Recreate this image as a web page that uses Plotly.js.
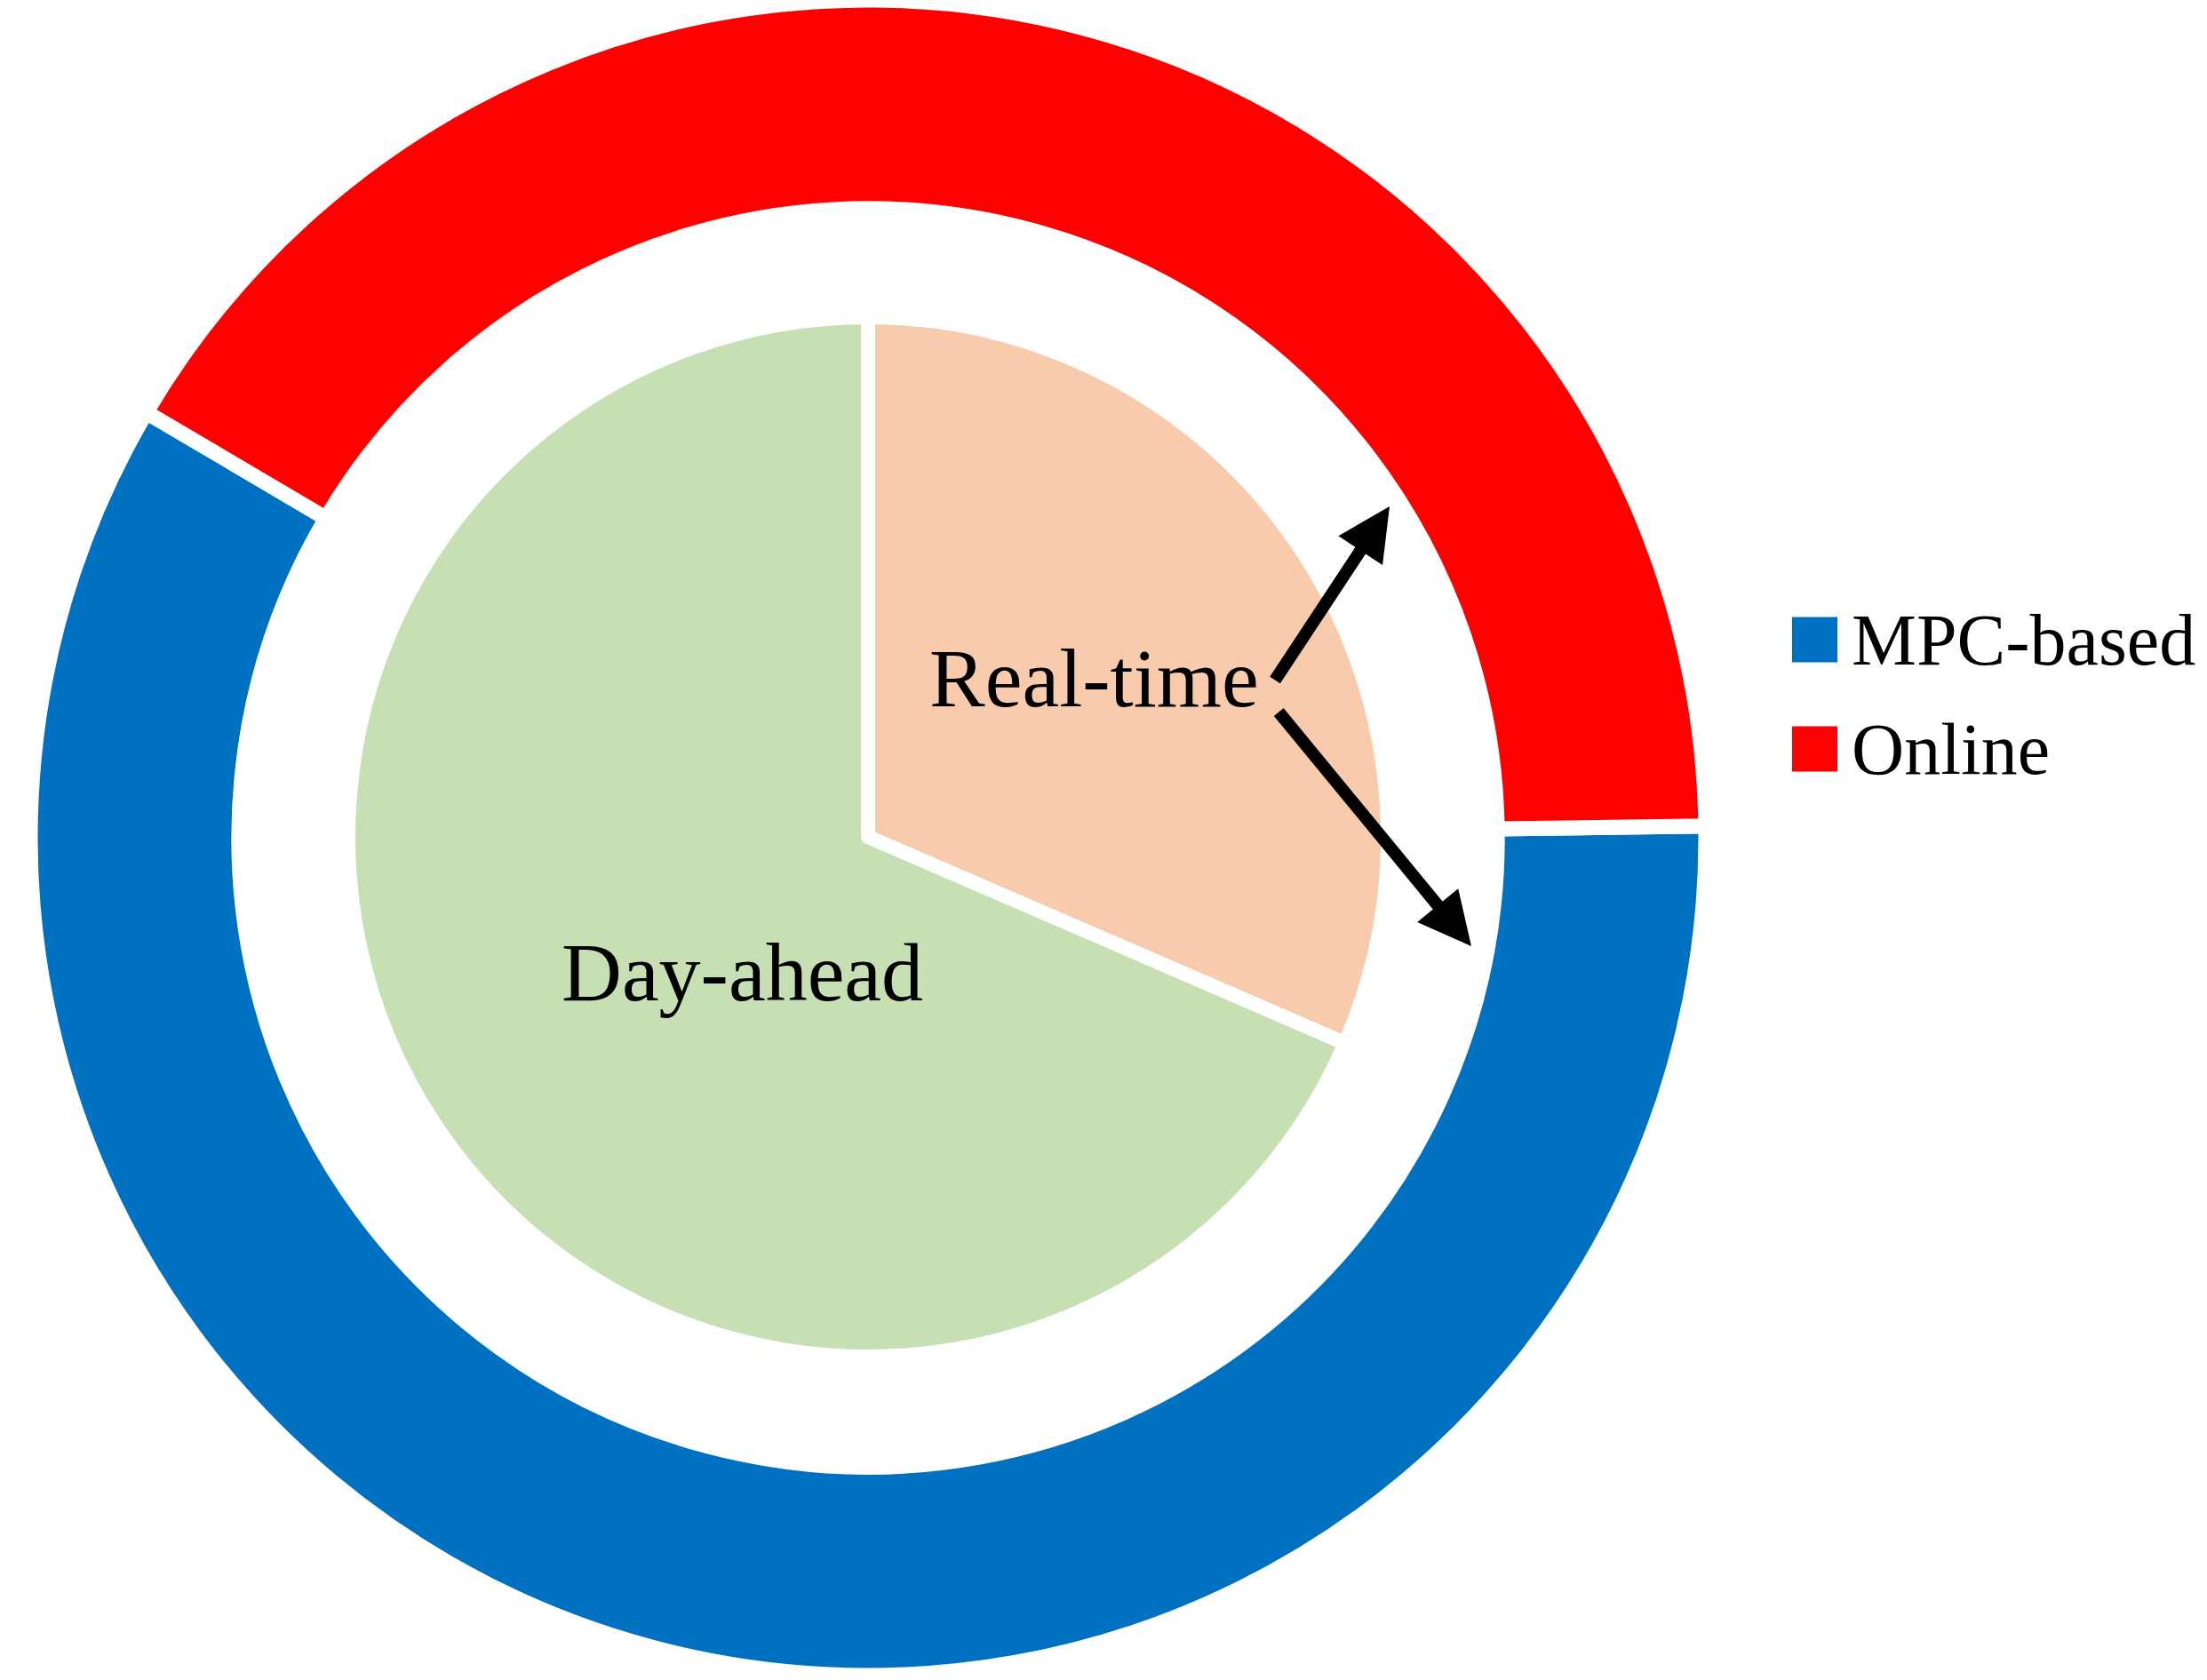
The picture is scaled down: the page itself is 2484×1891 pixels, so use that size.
<!DOCTYPE html>
<html>
<head>
<meta charset="utf-8">
<script src="https://cdn.plot.ly/plotly-3.0.1.min.js"></script>
<style>
  html, body { margin: 0; padding: 0; background: #fff; }
  #chart { width: 2484px; height: 1891px; }
</style>
</head>
<body>
<div id="chart"></div>
<script>
const W = 2484, H = 1891;

// outer ring: method type
const methodLabels = ['MPC-based', 'Online'];
const methodShares = [58.7, 41.3];
const methodColors = ['#0070C0', '#FF0000'];

// inner pie: scheduling stage
const stageLabels = ['Real-time', 'Day-ahead'];
const stageShares = [31.5, 68.5];
const stageColors = ['#F8CBAD', '#C6E0B4'];

const serif = 'Liberation Serif, Times New Roman, serif';

// margins are zero, so paper coords map straight onto the page
const px = x => x / W;
const py = y => 1 - y / H;

const outerRing = {
  type: 'pie',
  labels: methodLabels,
  values: methodShares,
  sort: false,
  direction: 'clockwise',
  rotation: 89.2,
  hole: 0.751,
  textinfo: 'none',
  hoverinfo: 'label+percent',
  marker: { colors: methodColors, line: { color: '#fff', width: 17 } },
  domain: { x: [px(34), px(1920)], y: [py(1886), py(0)] },
  showlegend: false
};

const innerPie = {
  type: 'pie',
  labels: stageLabels,
  values: stageShares,
  sort: false,
  direction: 'clockwise',
  rotation: 0,
  textinfo: 'none',
  hoverinfo: 'label+percent',
  marker: { colors: stageColors, line: { color: '#fff', width: 16 } },
  domain: { x: [px(392), px(1562)], y: [py(1527), py(357)] },
  showlegend: false
};

// slice labels sit inside the inner pie
const stageLabelPos = [[1231, 763], [835, 1094]];
const annotations = stageLabels.map((t, i) => ({
  text: t,
  xref: 'paper', yref: 'paper',
  x: px(stageLabelPos[i][0]), y: py(stageLabelPos[i][1]),
  xanchor: 'center', yanchor: 'middle',
  showarrow: false,
  font: { family: serif, size: 94, color: '#000' }
}));

// the two arrows from "Real-time" out to the ring
const arrows = [
  { tail: [1434, 767], head: [1564, 570] },
  { tail: [1438, 800], head: [1656, 1065] }
];
arrows.forEach(a => {
  annotations.push({
    text: '',
    xref: 'paper', yref: 'paper',
    x: px(a.head[0]), y: py(a.head[1]),
    axref: 'pixel', ayref: 'pixel',
    ax: a.tail[0] - a.head[0], ay: a.tail[1] - a.head[1],
    showarrow: true,
    arrowhead: 2,
    arrowsize: 0.85,
    arrowwidth: 14,
    arrowcolor: '#000'
  });
});

// hand-made legend so the swatches can be as big as in the original
const legendTop = [720, 843];
const shapes = [];
methodLabels.forEach((name, i) => {
  shapes.push({
    type: 'rect', xref: 'paper', yref: 'paper',
    x0: px(2017), x1: px(2068),
    y0: py(legendTop[i] - 25.5), y1: py(legendTop[i] + 25.5),
    fillcolor: methodColors[i], line: { width: 0 }
  });
  annotations.push({
    text: name,
    xref: 'paper', yref: 'paper',
    x: px(2082), y: py(legendTop[i]),
    xanchor: 'left', yanchor: 'middle',
    showarrow: false,
    font: { family: serif, size: 82, color: '#000' }
  });
});

const layout = {
  width: W,
  height: H,
  margin: { l: 0, r: 0, t: 0, b: 0 },
  paper_bgcolor: '#fff',
  showlegend: false,
  annotations,
  shapes
};

Plotly.newPlot('chart', [outerRing, innerPie], layout, { displayModeBar: false });
</script>
</body>
</html>
